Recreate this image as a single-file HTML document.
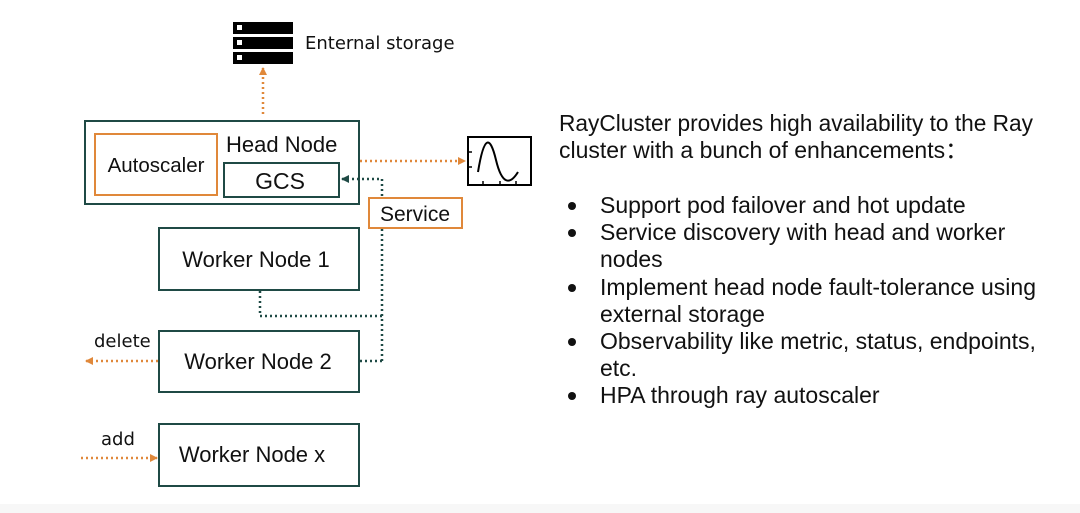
<!DOCTYPE html>
<html><head><meta charset="utf-8"><style>
body{margin:0;background:#fff;}
svg{display:block}
</style></head><body>
<svg width="1080" height="513" viewBox="0 0 1080 513" xmlns="http://www.w3.org/2000/svg" font-family="Liberation Sans, sans-serif">
<defs>
<marker id="ao" markerWidth="8" markerHeight="8" refX="7" refY="4" orient="auto" markerUnits="userSpaceOnUse"><path d="M0,0 L8,4 L0,8 z" fill="#e0883a"/></marker>
<marker id="at" markerWidth="8" markerHeight="8" refX="7" refY="4" orient="auto" markerUnits="userSpaceOnUse"><path d="M0,0 L8,4 L0,8 z" fill="#1f4a45"/></marker>
</defs>
<rect x="0" y="504" width="1080" height="9" fill="#f7f7f7"/>
<rect x="233" y="22" width="60" height="12" fill="#000"/>
<rect x="233" y="37" width="60" height="12" fill="#000"/>
<rect x="233" y="52" width="60" height="12" fill="#000"/>
<rect x="237" y="25" width="5" height="5" fill="#fff"/>
<rect x="237" y="40" width="5" height="5" fill="#fff"/>
<rect x="237" y="55" width="5" height="5" fill="#fff"/>
<text x="305" y="49" font-size="18" font-family="DejaVu Sans, sans-serif" fill="#111">Enternal storage</text>
<line x1="263" y1="114" x2="263" y2="68" stroke="#e0883a" stroke-width="2.5" stroke-dasharray="2 3" marker-end="url(#ao)"/>
<rect x="85" y="121" width="274" height="83" fill="none" stroke="#1f4a45" stroke-width="2"/>
<rect x="95" y="134" width="122" height="61" fill="none" stroke="#e0883a" stroke-width="2"/>
<text x="156" y="172" font-size="20.5" text-anchor="middle" fill="#111">Autoscaler</text>
<text x="226" y="152" font-size="22" fill="#111">Head Node</text>
<rect x="224" y="163" width="115" height="34" fill="none" stroke="#1f4a45" stroke-width="2"/>
<text x="280" y="189" font-size="23" text-anchor="middle" fill="#111">GCS</text>
<line x1="360" y1="161" x2="465" y2="161" stroke="#e0883a" stroke-width="2.5" stroke-dasharray="2 3" marker-end="url(#ao)"/>
<rect x="468" y="137" width="63" height="48" fill="none" stroke="#000" stroke-width="2"/>
<path d="M478,172 C484,135 490,135 496,160 C502,185 510,185 518,172" fill="none" stroke="#000" stroke-width="2"/>
<line x1="468" y1="152" x2="472" y2="152" stroke="#000" stroke-width="1.5"/>
<line x1="468" y1="167" x2="472" y2="167" stroke="#000" stroke-width="1.5"/>
<line x1="483" y1="185" x2="483" y2="181" stroke="#000" stroke-width="1.5"/>
<line x1="500" y1="185" x2="500" y2="181" stroke="#000" stroke-width="1.5"/>
<line x1="516" y1="185" x2="516" y2="181" stroke="#000" stroke-width="1.5"/>
<path d="M382,361 L382,179 L342,179" fill="none" stroke="#1f4a45" stroke-width="2.5" stroke-dasharray="2 3" marker-end="url(#at)"/>
<path d="M260,291 L260,316 L382,316" fill="none" stroke="#1f4a45" stroke-width="2.5" stroke-dasharray="2 3"/>
<path d="M360,361 L382,361" fill="none" stroke="#1f4a45" stroke-width="2.5" stroke-dasharray="2 3"/>
<rect x="369" y="198" width="93" height="30" fill="#fff" stroke="#e0883a" stroke-width="2"/>
<text x="415" y="221" font-size="21" text-anchor="middle" fill="#111">Service</text>
<rect x="159" y="228" width="200" height="62" fill="none" stroke="#1f4a45" stroke-width="2"/>
<text x="256" y="267" font-size="22" text-anchor="middle" fill="#111">Worker Node 1</text>
<rect x="159" y="331" width="200" height="61" fill="none" stroke="#1f4a45" stroke-width="2"/>
<text x="258" y="369" font-size="22" text-anchor="middle" fill="#111">Worker Node 2</text>
<rect x="159" y="424" width="200" height="62" fill="none" stroke="#1f4a45" stroke-width="2"/>
<text x="252" y="462" font-size="22" text-anchor="middle" fill="#111">Worker Node x</text>
<text x="94" y="347" font-size="18" font-family="DejaVu Sans, sans-serif" fill="#111">delete</text>
<line x1="158" y1="361" x2="86" y2="361" stroke="#e0883a" stroke-width="2.5" stroke-dasharray="2 3" marker-end="url(#ao)"/>
<text x="101" y="445" font-size="18" font-family="DejaVu Sans, sans-serif" fill="#111">add</text>
<line x1="81" y1="458" x2="157" y2="458" stroke="#e0883a" stroke-width="2.5" stroke-dasharray="2 3" marker-end="url(#ao)"/>
<g font-size="23" fill="#111">
<text x="559" y="131" textLength="474" lengthAdjust="spacingAndGlyphs">RayCluster provides high availability to the Ray</text>
<text x="559" y="158">cluster with a bunch of enhancements：</text>
<text x="600" y="213">Support pod failover and hot update</text>
<text x="600" y="240">Service discovery with head and worker</text>
<text x="600" y="267">nodes</text>
<text x="600" y="295">Implement head node fault-tolerance using</text>
<text x="600" y="322">external storage</text>
<text x="600" y="349">Observability like metric, status, endpoints,</text>
<text x="600" y="376">etc.</text>
<text x="600" y="403">HPA through ray autoscaler</text>
</g>
<g fill="#111">
<circle cx="572" cy="206" r="4"/>
<circle cx="572" cy="233" r="4"/>
<circle cx="572" cy="288" r="4"/>
<circle cx="572" cy="342" r="4"/>
<circle cx="572" cy="396" r="4"/>
</g>
</svg>
</body></html>
